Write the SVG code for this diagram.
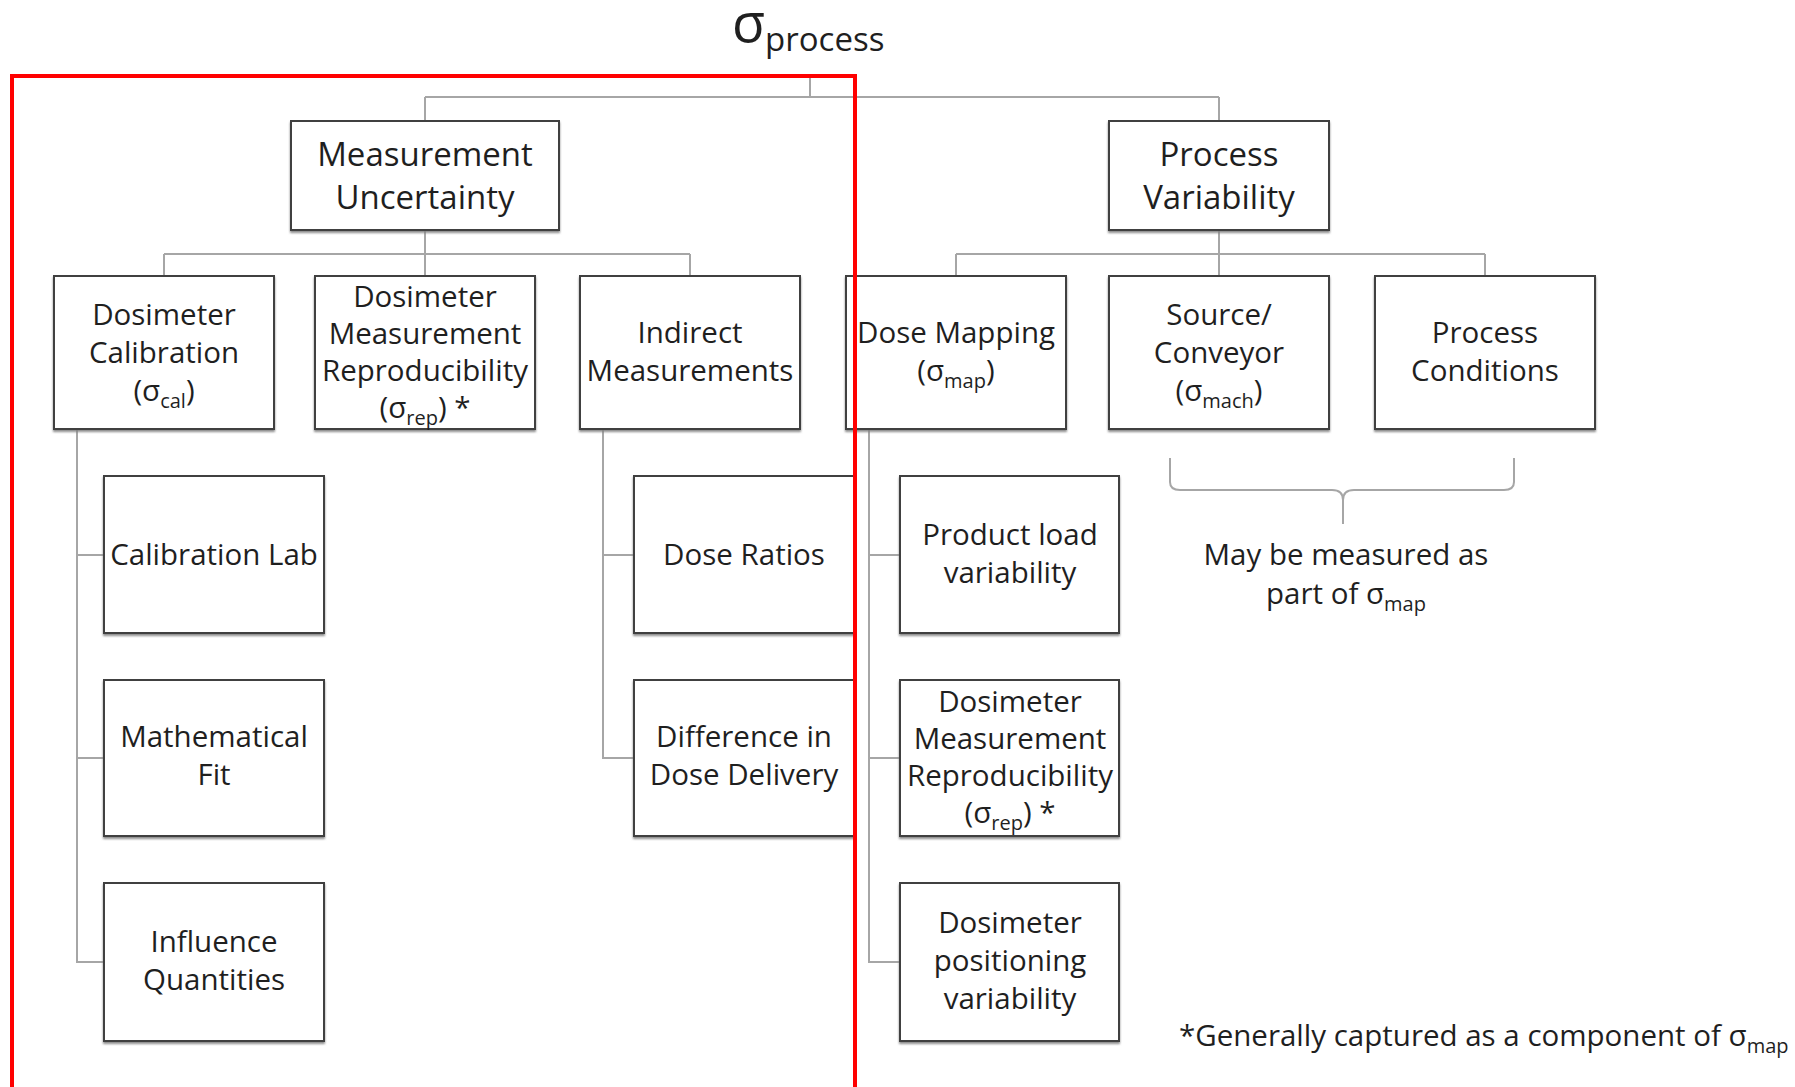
<svg xmlns="http://www.w3.org/2000/svg" width="1795" height="1087" viewBox="0 0 1795 1087">
<defs>
<style>
.box{fill:#fff;stroke:#404040;stroke-width:2;filter:url(#sh)}
.t{font-family:"Open Sans","Noto Sans",sans-serif;font-size:29.5px;fill:#1f1f1f;text-anchor:middle}
.t1{font-size:33px}
.s{font-size:20px}
.conn{fill:none;stroke:#a6a6a6;stroke-width:2}
.brace{fill:none;stroke:#a6a6a6;stroke-width:2}
.frame{fill:none;stroke:#ff0000;stroke-width:4}
</style>
<filter id="sh" x="-5%" y="-5%" width="110%" height="115%">
<feDropShadow dx="0" dy="2" stdDeviation="0.8" flood-color="#7f7f7f" flood-opacity="0.9"/>
</filter>
</defs>
<rect width="1795" height="1087" fill="#fff"/>

<g id="title">
<text class="t" style="text-anchor:start" x="732" y="42"><tspan style="font-size:54px">σ</tspan><tspan style="font-size:33px" dy="9">process</tspan></text>
</g>

<g id="connectors">
<path class="conn" d="M810 75 V97 M425 97 H1219 M425 97 V121 M1219 97 V121"/>
<path class="conn" d="M425 230 V276 M164 254 H690 M164 254 V276 M690 254 V276"/>
<path class="conn" d="M1219 230 V276 M956 254 H1485 M956 254 V276 M1485 254 V276"/>
<path class="conn" d="M77 429 V962 H104 M77 555 H104 M77 758 H104"/>
<path class="conn" d="M603 429 V758 H634 M603 555 H634"/>
<path class="conn" d="M869 429 V962 H900 M869 555 H900 M869 758 H900"/>
</g>

<g id="measurement-uncertainty">
<rect class="box" x="291" y="121" width="268" height="109"/>
<text class="t t1"><tspan x="425" y="166">Measurement</tspan><tspan x="425" y="209">Uncertainty</tspan></text>
</g>
<g id="process-variability">
<rect class="box" x="1109" y="121" width="220" height="109"/>
<text class="t t1"><tspan x="1219" y="166">Process</tspan><tspan x="1219" y="209">Variability</tspan></text>
</g>

<g id="dosimeter-calibration">
<rect class="box" x="54" y="276" width="220" height="153"/>
<text class="t"><tspan x="164" y="325">Dosimeter</tspan><tspan x="164" y="363">Calibration</tspan><tspan x="164" y="401">(σ<tspan class="s" dy="7">cal</tspan><tspan dy="-7">)</tspan></tspan></text>
</g>
<g id="dosimeter-measurement-reproducibility">
<rect class="box" x="315" y="276" width="220" height="153"/>
<text class="t"><tspan x="425" y="307">Dosimeter</tspan><tspan x="425" y="344">Measurement</tspan><tspan x="425" y="381">Reproducibility</tspan><tspan x="425" y="418">(σ<tspan class="s" dy="7">rep</tspan><tspan dy="-7">) *</tspan></tspan></text>
</g>
<g id="indirect-measurements">
<rect class="box" x="580" y="276" width="220" height="153"/>
<text class="t"><tspan x="690" y="343">Indirect</tspan><tspan x="690" y="381">Measurements</tspan></text>
</g>
<g id="dose-mapping">
<rect class="box" x="846" y="276" width="220" height="153"/>
<text class="t"><tspan x="956" y="343">Dose Mapping</tspan><tspan x="956" y="381">(σ<tspan class="s" dy="7">map</tspan><tspan dy="-7">)</tspan></tspan></text>
</g>
<g id="source-conveyor">
<rect class="box" x="1109" y="276" width="220" height="153"/>
<text class="t"><tspan x="1219" y="325">Source/</tspan><tspan x="1219" y="363">Conveyor</tspan><tspan x="1219" y="401">(σ<tspan class="s" dy="7">mach</tspan><tspan dy="-7">)</tspan></tspan></text>
</g>
<g id="process-conditions">
<rect class="box" x="1375" y="276" width="220" height="153"/>
<text class="t"><tspan x="1485" y="343">Process</tspan><tspan x="1485" y="381">Conditions</tspan></text>
</g>

<g id="calibration-lab">
<rect class="box" x="104" y="476" width="220" height="157"/>
<text class="t" x="214" y="565">Calibration Lab</text>
</g>
<g id="mathematical-fit">
<rect class="box" x="104" y="680" width="220" height="156"/>
<text class="t"><tspan x="214" y="747">Mathematical</tspan><tspan x="214" y="785">Fit</tspan></text>
</g>
<g id="influence-quantities">
<rect class="box" x="104" y="883" width="220" height="158"/>
<text class="t"><tspan x="214" y="952">Influence</tspan><tspan x="214" y="990">Quantities</tspan></text>
</g>

<g id="dose-ratios">
<rect class="box" x="634" y="476" width="220" height="157"/>
<text class="t" x="744" y="565">Dose Ratios</text>
</g>
<g id="difference-in-dose-delivery">
<rect class="box" x="634" y="680" width="220" height="156"/>
<text class="t"><tspan x="744" y="747">Difference in</tspan><tspan x="744" y="785">Dose Delivery</tspan></text>
</g>

<g id="product-load-variability">
<rect class="box" x="900" y="476" width="219" height="157"/>
<text class="t"><tspan x="1010" y="545">Product load</tspan><tspan x="1010" y="583">variability</tspan></text>
</g>
<g id="dosimeter-measurement-reproducibility-2">
<rect class="box" x="900" y="680" width="219" height="156"/>
<text class="t"><tspan x="1010" y="712">Dosimeter</tspan><tspan x="1010" y="749">Measurement</tspan><tspan x="1010" y="786">Reproducibility</tspan><tspan x="1010" y="823">(σ<tspan class="s" dy="7">rep</tspan><tspan dy="-7">) *</tspan></tspan></text>
</g>
<g id="dosimeter-positioning-variability">
<rect class="box" x="900" y="883" width="219" height="158"/>
<text class="t"><tspan x="1010" y="933">Dosimeter</tspan><tspan x="1010" y="971">positioning</tspan><tspan x="1010" y="1009">variability</tspan></text>
</g>

<g id="brace-note">
<path class="brace" d="M1170 458 V482 Q1170 490 1180 490 H1332 Q1343 490 1343 500 V524 M1343 500 Q1343 490 1354 490 H1504 Q1514 490 1514 482 V458"/>
<text class="t"><tspan x="1346" y="565">May be measured as</tspan><tspan x="1346" y="604">part of σ<tspan class="s" dy="7">map</tspan></tspan></text>
</g>

<g id="footnote">
<text class="t" style="text-anchor:start" x="1179" y="1046">*Generally captured as a component of σ<tspan class="s" dy="7">map</tspan></text>
</g>

<g id="highlight-frame">
<path class="frame" d="M12 1092 V76 H855 V1092"/>
</g>
</svg>
